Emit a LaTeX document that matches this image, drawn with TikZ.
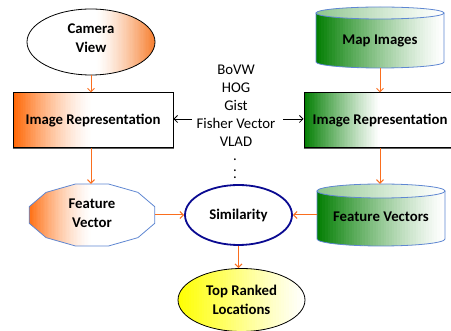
\documentclass[tikz,border=0pt]{standalone}
\usepackage{fontspec}
\setmainfont{Carlito}
\usetikzlibrary{arrows.meta,shapes.geometric}

\definecolor{orA}{RGB}{255,100,0}
\definecolor{orB}{RGB}{246,125,45}
\definecolor{arrowOr}{RGB}{250,110,30}
\definecolor{grA}{RGB}{0,125,0}
\colorlet{capA}{grA!45!white}
\definecolor{blueB}{RGB}{95,135,210}
\definecolor{navyS}{RGB}{10,10,145}
\definecolor{yelA}{RGB}{255,255,0}
\definecolor{edgeG}{RGB}{95,95,95}

% colour ramp built from thin vertical strips:
% x where the strong colour sits, x where it has faded out, y1, y2, strong colour, weak colour, exponent
\newcommand\hgradfill[7]{%
  \foreach \i in {0,...,47} {%
    \pgfmathsetmacro\xa{#1+(#2-#1)*\i/48}%
    \pgfmathsetmacro\xb{#1+(#2-#1)*(\i+1.3)/48}%
    \pgfmathsetmacro\pc{100*(1-(\i+0.5)/48)^#7}%
    \fill[#5!\pc!#6] (\xa,#3) rectangle (\xb,#4);
  }%
}

\tikzset{
  lbl/.style={font=\fontsize{14.8}{19}\selectfont\bfseries, align=center, text=black, inner sep=0pt},
  flow/.style={draw=arrowOr, line width=1pt, -{Straight Barb[length=3.5pt,width=7pt]}},
  link/.style={draw=black, line width=0.8pt, -{Straight Barb[length=3.5pt,width=7pt]}},
  reprbox/.style={lbl, rectangle, draw=black, line width=1pt, minimum height=55pt},
  blueline/.style={draw=blueB, line width=0.8pt},
  methodtxt/.style={font=\fontsize{14.8}{18}\selectfont, align=center, text=black, inner sep=0pt}
}

\begin{document}
\begin{tikzpicture}[x=1pt, y=-1pt]
\useasboundingbox (0,0) rectangle (451,331);

% ---- colour ramps (drawn first, outlines come on top)
\begin{scope}
  \clip (91,42) ellipse [x radius=64, y radius=33];
  \fill[white] (27,9) rectangle (98,75);
  \hgradfill{155}{96}{9}{75}{orB}{white}{1.35}
\end{scope}
\hgradfill{13}{93}{93}{148}{orA}{white}{1.45}
\fill[white] (92.5,93) rectangle (173,148);
\hgradfill{304}{380}{93}{148}{grA}{white}{1.15}
\fill[white] (379.5,93) rectangle (456,148);

\begin{scope}[shift={(92,215)}]
  \clip (15:65 and 32) -- (45:65 and 32) -- (75:65 and 32) -- (105:65 and 32)
    -- (135:65 and 32) -- (165:65 and 32) -- (195:65 and 32) -- (225:65 and 32)
    -- (255:65 and 32) -- (285:65 and 32) -- (315:65 and 32) -- (345:65 and 32) -- cycle;
  \hgradfill{-66}{0}{-33}{33}{orA}{white}{1.45}
  \fill[white] (-0.5,-33) rectangle (66,33);
\end{scope}

\begin{scope}
  \clip (316,13) -- (316,62) arc[start angle=180, end angle=0, x radius=64, y radius=6] -- (444,13) -- cycle;
  \hgradfill{316}{444}{12}{69}{grA}{white}{1.25}
\end{scope}
\begin{scope}
  \clip (380,13) ellipse [x radius=64, y radius=6];
  \hgradfill{316}{444}{6}{20}{capA}{white}{1.2}
\end{scope}
\begin{scope}
  \clip (317,191) -- (317,239) arc[start angle=180, end angle=0, x radius=64, y radius=7] -- (445,191) -- cycle;
  \hgradfill{317}{445}{190}{247}{grA}{white}{1.25}
\end{scope}
\begin{scope}
  \clip (381,191) ellipse [x radius=64, y radius=7];
  \hgradfill{317}{445}{183}{199}{capA}{white}{1.2}
\end{scope}
\begin{scope}
  \clip (241.5,300) ellipse [x radius=63.5, y radius=31.5];
  \hgradfill{178}{305}{268}{332}{yelA}{white}{1.1}
\end{scope}

% ---- camera input
\node[ellipse, draw=black, line width=0.8pt, minimum width=128pt, minimum height=66pt]
  (cam) at (91,42) {};
\node[lbl] (camtxt) at (91,38) {Camera\\View};

% ---- representation boxes (the right one runs past the edge)
\node[reprbox, minimum width=160pt] (irL) at (93,120.5) {Image Representation};
\node[reprbox, minimum width=152pt] (irR) at (380,120.5) {Image Representation};
\draw[edgeG, line width=1.2pt] (irL.south west) -- (irL.south east);
\draw[edgeG, line width=1.2pt] (irR.south west) -- (irR.south east);

% ---- descriptor methods
\node[methodtxt] (methods) at (236,106) {BoVW\\HOG\\Gist\\Fisher Vector\\VLAD};
\node[methodtxt] (dots) at (235,168.5)
  {\vbox{\offinterlineskip\hbox{.}\kern9.4pt\hbox{.}\kern5.4pt\hbox{.}}};

\coordinate (lfrom) at (192,119);
\coordinate (rfrom) at (283,119);
\draw[link] (lfrom) -- (lfrom -| irL.east);
\draw[link] (rfrom) -- (rfrom -| irR.west);

% ---- map image database (cylinder)
\draw[blueline] (316,13) -- (316,62) arc[start angle=180, end angle=0, x radius=64, y radius=6] -- (444,13);
\draw[blueline] (380,13) ellipse [x radius=64, y radius=6];
\node[lbl, minimum width=128pt, minimum height=61pt] (map) at (380,37.5) {};
\node[lbl] (maptxt) at (380,41) {Map Images};

% ---- feature vector database (cylinder)
\draw[blueline] (317,191) -- (317,239) arc[start angle=180, end angle=0, x radius=64, y radius=7] -- (445,191);
\draw[blueline] (381,191) ellipse [x radius=64, y radius=7];
\node[lbl, minimum width=128pt, minimum height=62pt] (fvs) at (381,215) {};
\node[lbl] (fvstxt) at (381,217) {Feature Vectors};

% ---- query feature vector (stretched dodecagon)
\node[lbl, minimum width=126pt, minimum height=62pt] (fv) at (92,215) {};
\begin{scope}[shift={(fv.center)}]
  \draw[blueline] (15:65 and 32) -- (45:65 and 32) -- (75:65 and 32) -- (105:65 and 32)
    -- (135:65 and 32) -- (165:65 and 32) -- (195:65 and 32) -- (225:65 and 32)
    -- (255:65 and 32) -- (285:65 and 32) -- (315:65 and 32) -- (345:65 and 32) -- cycle;
\end{scope}
\node[lbl] (fvtxt) at (92,213) {Feature\\Vector};

% ---- similarity and result
\node[lbl, ellipse, draw=navyS, line width=1.8pt, fill=white,
  minimum width=107pt, minimum height=60pt] (sim) at (238.5,215) {Similarity};
\node[lbl, ellipse, draw=black, line width=0.8pt,
  minimum width=127pt, minimum height=63pt] (top) at (241.5,300) {Top Ranked\\Locations};

% ---- flow arrows
\draw[flow] (cam.south) -- (cam.south |- irL.north);
\draw[flow] (cam.south |- irL.south) -- (cam.south |- fv.north);
\draw[flow] (map.south) -- (map.south |- irR.north);
\draw[flow] (irR.south) -- (irR.south |- fvs.north);
\draw[flow] (fv.east) -- (sim.west);
\draw[flow] (fvs.west) -- (sim.east);
\draw[flow] (sim.south) -- (sim.south |- top.north);
\end{tikzpicture}
\end{document}
